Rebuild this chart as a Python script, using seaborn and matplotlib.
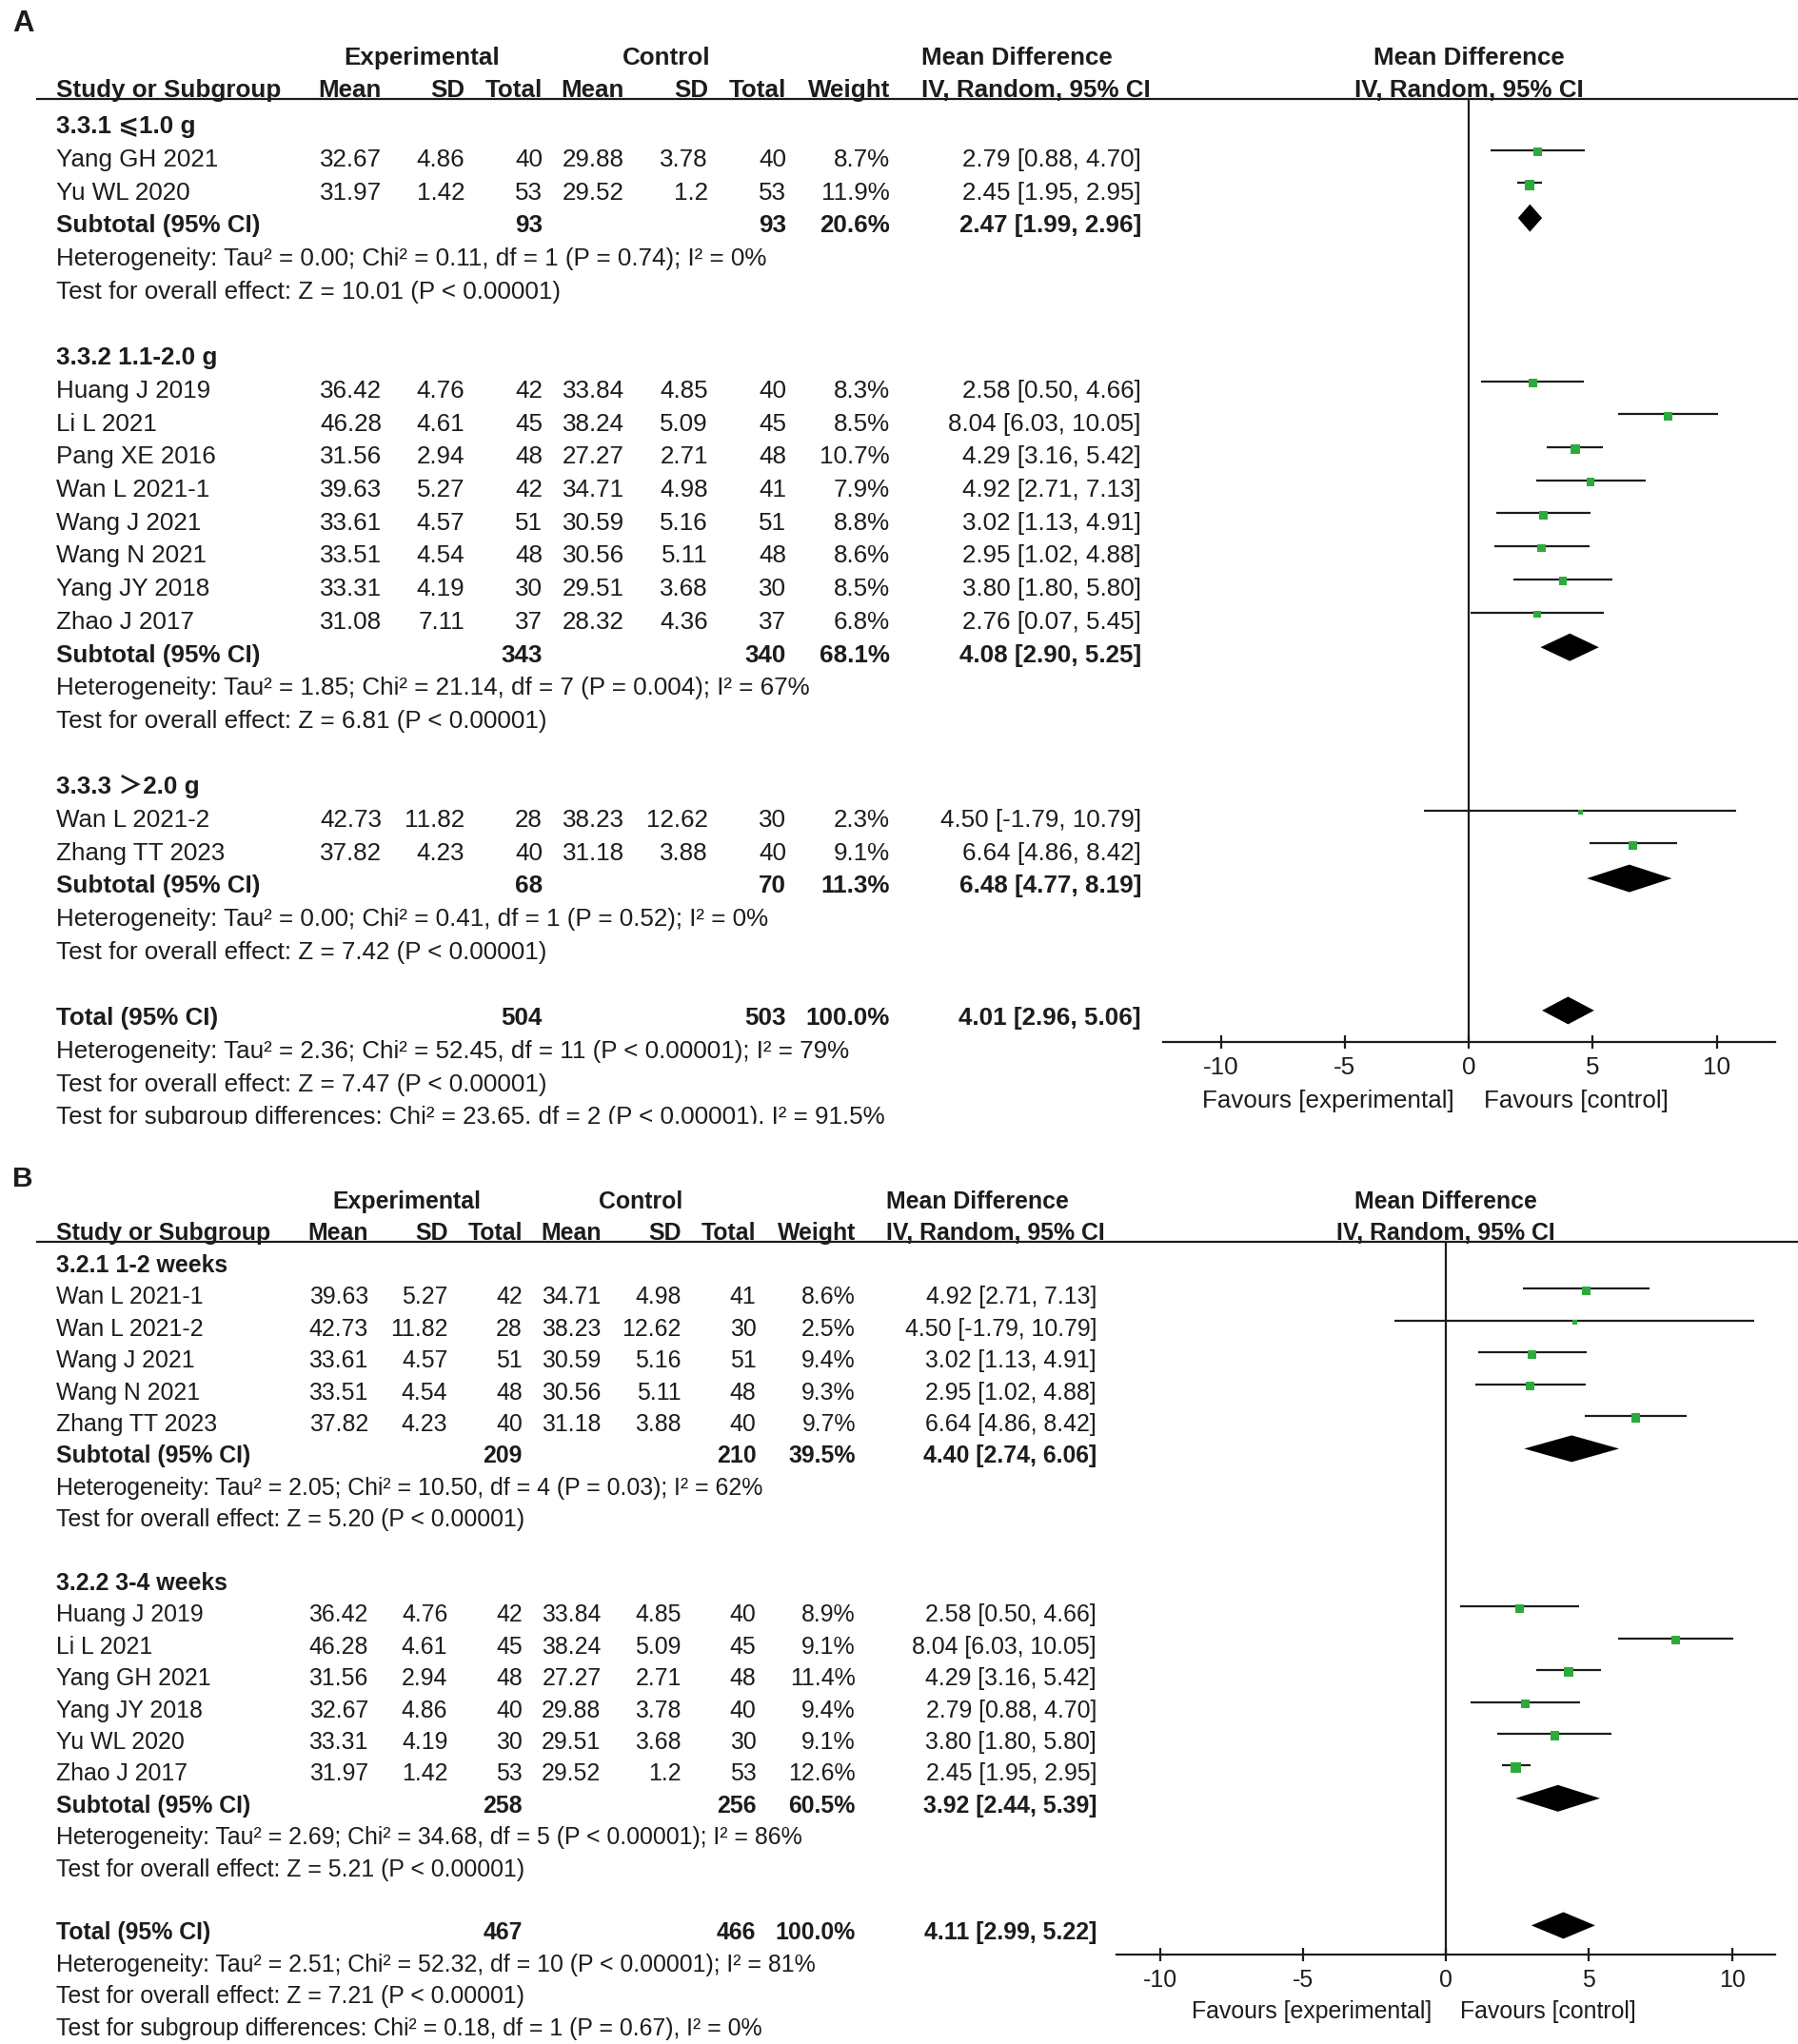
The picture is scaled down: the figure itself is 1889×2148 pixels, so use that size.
import matplotlib
matplotlib.use("Agg")
import matplotlib.pyplot as plt
import seaborn as sns
import pandas as pd

# ---------------- panel A : dose subgroups ----------------
a_groups = ["3.3.1 ⩽1.0 g", "3.3.2 1.1-2.0 g", "3.3.3 ＞2.0 g"]
a_study = ["Yang GH 2021", "Yu WL 2020", "Huang J 2019", "Li L 2021", "Pang XE 2016",
           "Wan L 2021-1", "Wang J 2021", "Wang N 2021", "Yang JY 2018", "Zhao J 2017",
           "Wan L 2021-2", "Zhang TT 2023"]
a_grp = [0, 0, 1, 1, 1, 1, 1, 1, 1, 1, 2, 2]
a_e_mean = [32.67, 31.97, 36.42, 46.28, 31.56, 39.63, 33.61, 33.51, 33.31, 31.08, 42.73, 37.82]
a_e_sd = [4.86, 1.42, 4.76, 4.61, 2.94, 5.27, 4.57, 4.54, 4.19, 7.11, 11.82, 4.23]
a_e_n = [40, 53, 42, 45, 48, 42, 51, 48, 30, 37, 28, 40]
a_c_mean = [29.88, 29.52, 33.84, 38.24, 27.27, 34.71, 30.59, 30.56, 29.51, 28.32, 38.23, 31.18]
a_c_sd = [3.78, 1.2, 4.85, 5.09, 2.71, 4.98, 5.16, 5.11, 3.68, 4.36, 12.62, 3.88]
a_c_n = [40, 53, 40, 45, 48, 41, 51, 48, 30, 37, 30, 40]
a_weight = [8.7, 11.9, 8.3, 8.5, 10.7, 7.9, 8.8, 8.6, 8.5, 6.8, 2.3, 9.1]
a_md = [2.79, 2.45, 2.58, 8.04, 4.29, 4.92, 3.02, 2.95, 3.80, 2.76, 4.50, 6.64]
a_lo = [0.88, 1.95, 0.50, 6.03, 3.16, 2.71, 1.13, 1.02, 1.80, 0.07, -1.79, 4.86]
a_hi = [4.70, 2.95, 4.66, 10.05, 5.42, 7.13, 4.91, 4.88, 5.80, 5.45, 10.79, 8.42]
a_sub_e_n = [93, 343, 68]
a_sub_c_n = [93, 340, 70]
a_sub_w = [20.6, 68.1, 11.3]
a_sub_md = [2.47, 4.08, 6.48]
a_sub_lo = [1.99, 2.90, 4.77]
a_sub_hi = [2.96, 5.25, 8.19]
a_sub_het = ["Heterogeneity: Tau² = 0.00; Chi² = 0.11, df = 1 (P = 0.74); I² = 0%",
             "Heterogeneity: Tau² = 1.85; Chi² = 21.14, df = 7 (P = 0.004); I² = 67%",
             "Heterogeneity: Tau² = 0.00; Chi² = 0.41, df = 1 (P = 0.52); I² = 0%"]
a_sub_z = ["Test for overall effect: Z = 10.01 (P < 0.00001)",
           "Test for overall effect: Z = 6.81 (P < 0.00001)",
           "Test for overall effect: Z = 7.42 (P < 0.00001)"]
a_tot = [504, 503, 100.0, 4.01, 2.96, 5.06]
a_notes = ["Heterogeneity: Tau² = 2.36; Chi² = 52.45, df = 11 (P < 0.00001); I² = 79%",
           "Test for overall effect: Z = 7.47 (P < 0.00001)",
           "Test for subgroup differences: Chi² = 23.65, df = 2 (P < 0.00001), I² = 91.5%"]

# ---------------- panel B : duration subgroups ----------------
b_groups = ["3.2.1 1-2 weeks", "3.2.2 3-4 weeks"]
b_study = ["Wan L 2021-1", "Wan L 2021-2", "Wang J 2021", "Wang N 2021", "Zhang TT 2023",
           "Huang J 2019", "Li L 2021", "Yang GH 2021", "Yang JY 2018", "Yu WL 2020", "Zhao J 2017"]
b_grp = [0, 0, 0, 0, 0, 1, 1, 1, 1, 1, 1]
b_e_mean = [39.63, 42.73, 33.61, 33.51, 37.82, 36.42, 46.28, 31.56, 32.67, 33.31, 31.97]
b_e_sd = [5.27, 11.82, 4.57, 4.54, 4.23, 4.76, 4.61, 2.94, 4.86, 4.19, 1.42]
b_e_n = [42, 28, 51, 48, 40, 42, 45, 48, 40, 30, 53]
b_c_mean = [34.71, 38.23, 30.59, 30.56, 31.18, 33.84, 38.24, 27.27, 29.88, 29.51, 29.52]
b_c_sd = [4.98, 12.62, 5.16, 5.11, 3.88, 4.85, 5.09, 2.71, 3.78, 3.68, 1.2]
b_c_n = [41, 30, 51, 48, 40, 40, 45, 48, 40, 30, 53]
b_weight = [8.6, 2.5, 9.4, 9.3, 9.7, 8.9, 9.1, 11.4, 9.4, 9.1, 12.6]
b_md = [4.92, 4.50, 3.02, 2.95, 6.64, 2.58, 8.04, 4.29, 2.79, 3.80, 2.45]
b_lo = [2.71, -1.79, 1.13, 1.02, 4.86, 0.50, 6.03, 3.16, 0.88, 1.80, 1.95]
b_hi = [7.13, 10.79, 4.91, 4.88, 8.42, 4.66, 10.05, 5.42, 4.70, 5.80, 2.95]
b_sub_e_n = [209, 258]
b_sub_c_n = [210, 256]
b_sub_w = [39.5, 60.5]
b_sub_md = [4.40, 3.92]
b_sub_lo = [2.74, 2.44]
b_sub_hi = [6.06, 5.39]
b_sub_het = ["Heterogeneity: Tau² = 2.05; Chi² = 10.50, df = 4 (P = 0.03); I² = 62%",
             "Heterogeneity: Tau² = 2.69; Chi² = 34.68, df = 5 (P < 0.00001); I² = 86%"]
b_sub_z = ["Test for overall effect: Z = 5.20 (P < 0.00001)",
           "Test for overall effect: Z = 5.21 (P < 0.00001)"]
b_tot = [467, 466, 100.0, 4.11, 2.99, 5.22]
b_notes = ["Heterogeneity: Tau² = 2.51; Chi² = 52.32, df = 10 (P < 0.00001); I² = 81%",
           "Test for overall effect: Z = 7.21 (P < 0.00001)",
           "Test for subgroup differences: Chi² = 0.18, df = 1 (P = 0.67), I² = 0%"]

ticks = [-10, -5, 0, 5, 10]

W, H = 1889, 2148
INK = "#1c1c1c"
GREEN = "#2eaa3c"

sns.set_theme(style="white")
plt.rcParams["font.family"] = ["Liberation Sans", "DejaVu Sans", "Noto Sans CJK SC"]
plt.rcParams["axes.unicode_minus"] = False

fig = plt.figure(figsize=(W / 100, H / 100), dpi=100)
fig.patch.set_facecolor("white")


def ci(m, l, h):
    return f"{m:.2f} [{l:.2f}, {h:.2f}]"


def draw_panel(letter, d, L):
    top, bot = L["top"], L["bot"]
    fs = L["fs"]
    base = 0.36 * fs * 100 / 72  # baseline below row centre
    sc = L["colscale"]
    col = {k: 59 + (v - 59) * sc for k, v in
           dict(study=59, em=401, esd=488, en=570, cm=656, csd=744, cn=826,
                w=935, ci=1199, mdl=968, exp=443, ctl=700).items()}

    tab = fig.add_axes([0, 1 - bot / H, 1, (bot - top) / H])
    tab.set_xlim(0, W)
    tab.set_ylim(bot, top)
    tab.axis("off")

    def txt(x, y, s, ha="left", bold=False, ax=tab, size=fs):
        ax.text(x, y + base, s, ha=ha, va="baseline", fontsize=size, color=INK,
                fontweight="bold" if bold else "normal", clip_on=(ax is tab))

    txt(24, L["label_y"], letter, ha="center", bold=True, size=fs * 1.2)
    # header
    h1, h2 = L["h1"], L["h2"]
    txt(col["exp"], h1, "Experimental", ha="center", bold=True)
    txt(col["ctl"], h1, "Control", ha="center", bold=True)
    txt(col["mdl"], h1, "Mean Difference", bold=True)
    txt(col["study"], h2, "Study or Subgroup", bold=True)
    for key, s in [("em", "Mean"), ("esd", "SD"), ("en", "Total"), ("cm", "Mean"),
                   ("csd", "SD"), ("cn", "Total"), ("w", "Weight")]:
        txt(col[key], h2, s, ha="right", bold=True)
    txt(col["mdl"], h2, "IV, Random, 95% CI", bold=True)
    tab.hlines(L["line_y"], 38, W, color=INK, lw=1.6)

    # forest axes sharing the pixel rows
    z0, ppu = L["zero"], L["ppu"]
    x0 = z0 + L["xlim"][0] * ppu
    x1 = z0 + L["xlim"][1] * ppu
    fa = fig.add_axes([x0 / W, 1 - bot / H, (x1 - x0) / W, (bot - top) / H])
    fa.patch.set_alpha(0)

    def y(k):
        return L["row0"] + k * L["step"]

    pts = {"md": [], "y": [], "w": []}
    k = 0
    for g, name in enumerate(d["groups"]):
        txt(col["study"], y(k), name, bold=True)
        k += 1
        for i, gi in enumerate(d["grp"]):
            if gi != g:
                continue
            yy = y(k)
            txt(col["study"], yy, d["study"][i])
            txt(col["em"], yy, f"{d['e_mean'][i]:.2f}", ha="right")
            txt(col["esd"], yy, f"{d['e_sd'][i]:g}", ha="right")
            txt(col["en"], yy, str(d["e_n"][i]), ha="right")
            txt(col["cm"], yy, f"{d['c_mean'][i]:.2f}", ha="right")
            txt(col["csd"], yy, f"{d['c_sd'][i]:g}", ha="right")
            txt(col["cn"], yy, str(d["c_n"][i]), ha="right")
            txt(col["w"], yy, f"{d['weight'][i]:.1f}%", ha="right")
            txt(col["ci"], yy, ci(d["md"][i], d["lo"][i], d["hi"][i]), ha="right")
            ly = yy + L["mark_dy"]
            fa.hlines(ly, d["lo"][i], d["hi"][i], color=INK, lw=1.6)
            pts["md"].append(d["md"][i])
            pts["y"].append(ly + 2)
            pts["w"].append(d["weight"][i])
            k += 1
        yy = y(k)
        txt(col["study"], yy, "Subtotal (95% CI)", bold=True)
        txt(col["en"], yy, str(d["sub_e_n"][g]), ha="right", bold=True)
        txt(col["cn"], yy, str(d["sub_c_n"][g]), ha="right", bold=True)
        txt(col["w"], yy, f"{d['sub_w'][g]:.1f}%", ha="right", bold=True)
        txt(col["ci"], yy, ci(d["sub_md"][g], d["sub_lo"][g], d["sub_hi"][g]), ha="right", bold=True)
        yc = yy + L["dia_dy"]
        hh = L["dia_h"]
        fa.fill([d["sub_lo"][g], d["sub_md"][g], d["sub_hi"][g], d["sub_md"][g]],
                [yc, yc - hh, yc, yc + hh], color="black", lw=0)
        k += 1
        txt(col["study"], y(k), d["sub_het"][g])
        k += 1
        txt(col["study"], y(k), d["sub_z"][g])
        k += 2

    en, cn, w, m, l, h = d["tot"]
    yy = y(k)
    txt(col["study"], yy, "Total (95% CI)", bold=True)
    txt(col["en"], yy, str(en), ha="right", bold=True)
    txt(col["cn"], yy, str(cn), ha="right", bold=True)
    txt(col["w"], yy, f"{w:.1f}%", ha="right", bold=True)
    txt(col["ci"], yy, ci(m, l, h), ha="right", bold=True)
    yc = yy + L["dia_dy"]
    hh = L["dia_h"]
    fa.fill([l, m, h, m], [yc, yc - hh, yc, yc + hh], color="black", lw=0)
    for note in d["notes"]:
        k += 1
        txt(col["study"], y(k), note)

    df = pd.DataFrame(pts)
    sns.scatterplot(data=df, x="md", y="y", size="w", sizes=(0, L["sq_max"]),
                    size_norm=(0, 15), marker="s", color=GREEN, linewidth=0,
                    legend=False, ax=fa, zorder=3)

    fa.set_xlim(*L["xlim"])
    fa.set_ylim(bot, top)
    fa.set_xlabel("")
    fa.set_ylabel("")
    fa.set_yticks([])
    for s in ["top", "left", "right"]:
        fa.spines[s].set_visible(False)
    fa.spines["bottom"].set_position(("data", L["axis_y"]))
    fa.spines["bottom"].set_linewidth(1.6)
    fa.spines["bottom"].set_color(INK)
    fa.set_xticks(ticks)
    fa.set_xticklabels([str(t) for t in ticks])
    fa.tick_params(axis="x", direction="inout", length=10, width=1.6, labelsize=fs,
                   pad=5.5, colors=INK, bottom=True)
    fa.vlines(0, L["line_y"], L["axis_y"], color=INK, lw=1.6)
    fa.text(0, L["h1"] + base, "Mean Difference", ha="center", va="baseline",
            fontsize=fs, fontweight="bold", color=INK)
    fa.text(0, L["h2"] + base, "IV, Random, 95% CI", ha="center", va="baseline",
            fontsize=fs, fontweight="bold", color=INK)
    fa.text(-L["fav_off"], L["fav_y"] + base, "Favours [experimental]", ha="right",
            va="baseline", fontsize=fs, color=INK)
    fa.text(L["fav_off"], L["fav_y"] + base, "Favours [control]", ha="left",
            va="baseline", fontsize=fs, color=INK)


data_a = dict(groups=a_groups, study=a_study, grp=a_grp, e_mean=a_e_mean, e_sd=a_e_sd,
              e_n=a_e_n, c_mean=a_c_mean, c_sd=a_c_sd, c_n=a_c_n, weight=a_weight,
              md=a_md, lo=a_lo, hi=a_hi, sub_e_n=a_sub_e_n, sub_c_n=a_sub_c_n,
              sub_w=a_sub_w, sub_md=a_sub_md, sub_lo=a_sub_lo, sub_hi=a_sub_hi,
              sub_het=a_sub_het, sub_z=a_sub_z, tot=a_tot, notes=a_notes)
data_b = dict(groups=b_groups, study=b_study, grp=b_grp, e_mean=b_e_mean, e_sd=b_e_sd,
              e_n=b_e_n, c_mean=b_c_mean, c_sd=b_c_sd, c_n=b_c_n, weight=b_weight,
              md=b_md, lo=b_lo, hi=b_hi, sub_e_n=b_sub_e_n, sub_c_n=b_sub_c_n,
              sub_w=b_sub_w, sub_md=b_sub_md, sub_lo=b_sub_lo, sub_hi=b_sub_hi,
              sub_het=b_sub_het, sub_z=b_sub_z, tot=b_tot, notes=b_notes)

lay_a = dict(top=0, bot=1181, fs=18.7, colscale=1.0, label_y=24, h1=59, h2=93, line_y=104,
             row0=131, step=34.7, mark_dy=-8, dia_dy=-6, dia_h=14.5, sq_max=70,
             zero=1543, ppu=26.05, xlim=(-12.33, 12.36), axis_y=1095, fav_y=1155,
             fav_off=0.6)
lay_b = dict(top=1200, bot=H, fs=17.9, colscale=1 / 1.043, label_y=1238, h1=1261, h2=1294,
             line_y=1305, row0=1328, step=33.4, mark_dy=-7, dia_dy=-6, dia_h=14, sq_max=70,
             zero=1519, ppu=30.05, xlim=(-11.5, 11.5), axis_y=2054, fav_y=2112,
             fav_off=0.5)

draw_panel("A", data_a, lay_a)
draw_panel("B", data_b, lay_b)

fig.savefig("out.png", dpi=100, facecolor="white")
